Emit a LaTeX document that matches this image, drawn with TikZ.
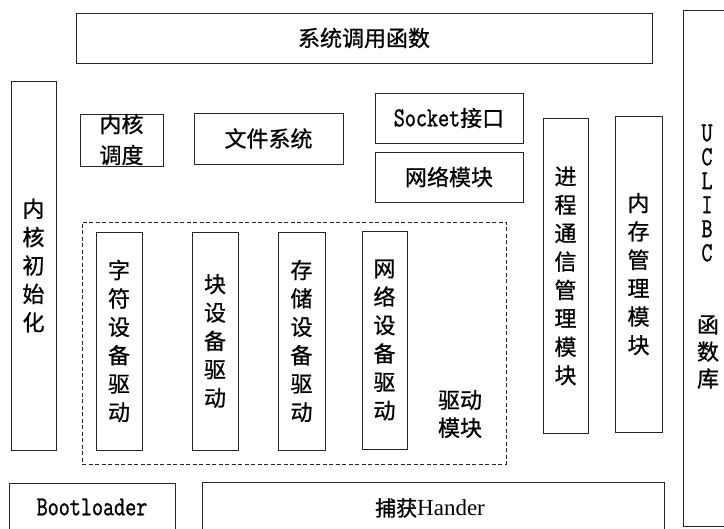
\documentclass[tikz,border=0pt]{standalone}
\usepackage{fontspec}
\usepackage{graphicx}
\setmainfont{Liberation Serif}
\newfontfamily\cjk[FakeBold=0.8]{Noto Sans CJK SC}
\newfontfamily\monob[FakeBold=1.2]{Latin Modern Mono}
\newcommand{\mt}[1]{{\monob\scalebox{1}[1.27]{#1}}}
\tikzset{
  box/.style={draw=black!85, line width=0.8pt, inner sep=0pt, rectangle},
  dbox/.style={draw=black!85, line width=0.8pt, inner sep=0pt, rectangle, dash pattern=on 4pt off 2.5pt},
  cj/.style={font=\cjk\fontsize{22}{28.4}\selectfont, align=center},
  mono/.style={font=\fontsize{21.5}{24}\selectfont, inner sep=0pt}
}
\begin{document}
\begin{tikzpicture}[x=1pt,y=-1pt]
\clip (0,0) rectangle (724,529);
\fill[white] (0,0) rectangle (724,529);

% top
\node[box, cj, minimum width=576, minimum height=50] (sys) at (364,38) {系统调用函数};

% kernel init
\node[box, cj, minimum width=45, minimum height=369] (init) at (33.5,265.5) {内\\核\\初\\始\\化};

% scheduler
\node[box, minimum width=83, minimum height=52] (sched) at (121.5,140) {};
\node[cj, font=\cjk\fontsize{22}{31}\selectfont, inner sep=0pt] (schedlbl) at (121.5,139.5) {内核\\调度};

% file system
\node[box, cj, minimum width=149, minimum height=51] (fs) at (268.5,138.5) {文件系统};

% socket & network
\node[box, minimum width=148, minimum height=50, font=\fontsize{21.5}{24}\selectfont] (sock) at (449,118) {\mt{Socket}{\cjk\fontsize{22}{24}\selectfont 接口}};
\node[box, cj, minimum width=148, minimum height=50] (net) at (449,177) {网络模块};

% ipc & memory
\node[box, cj, minimum width=45, minimum height=315] (ipc) at (565.5,276) {进\\程\\通\\信\\管\\理\\模\\块};
\node[box, cj, minimum width=47, minimum height=316] (mem) at (638.5,274) {内\\存\\管\\理\\模\\块};

% uclibc
\node[box, anchor=north west, minimum width=70, minimum height=516] (uclibc) at (683,10) {};
\node[mono, align=center] (liblat) at (707,193) {\mt{U}\\\mt{C}\\\mt{L}\\\mt{I}\\\mt{B}\\\mt{C}};
\node[cj, font=\cjk\fontsize{22}{27}\selectfont, inner sep=0pt] (libcjk) at (708,352) {函\\数\\库};

% driver module
\node[dbox, minimum width=424, minimum height=242] (drv) at (294,343) {};
\node[box, cj, minimum width=46, minimum height=218] (chr) at (119,341) {字\\符\\设\\备\\驱\\动};
\node[box, cj, minimum width=46, minimum height=218] (blk) at (215,341) {块\\设\\备\\驱\\动};
\node[box, cj, minimum width=47, minimum height=218] (sto) at (301.5,341) {存\\储\\设\\备\\驱\\动};
\node[box, cj, minimum width=45, minimum height=218] (netdev) at (384.5,340) {网\\络\\设\\备\\驱\\动};
\node[cj, font=\cjk\fontsize{22}{28}\selectfont, inner sep=0pt] (drvlbl) at (460,414) {驱动\\模块};

% bottom
\node[box, anchor=north west, minimum width=166, minimum height=60] (boot) at (9,483) {};
\node[mono] (bootlbl) at (92,507) {\mt{Bootloader}};
\node[box, anchor=north west, minimum width=462, minimum height=60] (trap) at (202,482) {};
\node[anchor=west, inner sep=0pt, font=\fontsize{23}{26}\selectfont] (traplbl) at (375,508) {{\cjk\fontsize{21}{26}\selectfont 捕获}Hander};
\end{tikzpicture}
\end{document}
